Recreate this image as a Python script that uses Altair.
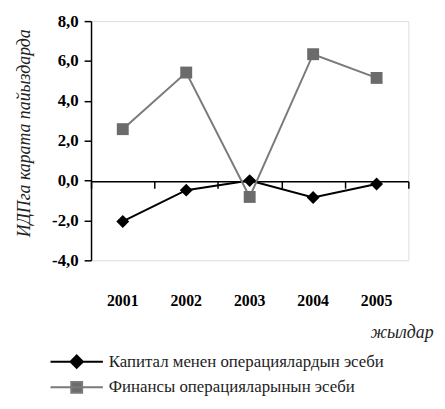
import altair as alt
import pandas as pd

years = ["2001", "2002", "2003", "2004", "2005"]
capital = [-2.05, -0.48, 0.0, -0.85, -0.17]
finance = [2.58, 5.42, -0.82, 6.34, 5.15]
series_names = ["Капитал менен операциялардын эсеби", "Финансы операцияларынын эсеби"]
y_ticks = [-4, -2, 0, 2, 4, 6, 8]

rows = []
for y, v in zip(years, capital):
    rows.append({"year": y, "series": series_names[0], "value": v})
for y, v in zip(years, finance):
    rows.append({"year": y, "series": series_names[1], "value": v})
df = pd.DataFrame(rows)

FONT = "Liberation Serif, Times New Roman, serif"
xscale = alt.Scale(type="band", paddingInner=0, paddingOuter=0, domain=years)
yscale = alt.Scale(domain=[-4, 8], nice=False, zero=False)

y_axis = alt.Axis(
    values=y_ticks, grid=False, title="ИДПга карата пайыздарда",
    labelExpr="replace(replace(format(datum.value, '.1f'), '.', ','), '\u2212', '-')",
    labelFont=FONT, labelFontSize=17, labelFontWeight="bold", labelColor="black",
    labelPadding=6, tickSize=7, tickColor="black", tickWidth=1.5,
    domainColor="black", domainWidth=1.5,
    titleFont=FONT, titleFontSize=18, titleFontStyle="italic", titleFontWeight="normal",
    titleColor="#222", titlePadding=18, titleY=113,
)
y_enc = alt.Y("value:Q", scale=yscale, axis=y_axis)

axis_labels = alt.Axis(
    orient="bottom", domain=False, ticks=False, tickSize=0, labelPadding=33, labelAngle=0,
    labelFont=FONT, labelFontSize=16, labelFontWeight="bold", labelColor="black",
    title="жылдар", titleFont=FONT, titleFontSize=18, titleFontStyle="italic",
    titleFontWeight="normal", titleColor="#222", titleAlign="right", titleBaseline="middle",
    titleX=346, titleY=73, titleAnchor="end",
)
axis_zero = alt.Axis(
    orient="bottom", offset=-80, labels=False, tickBand="extent", tickSize=7,
    tickColor="black", tickWidth=1.5, domainColor="black", domainWidth=1.5,
    title=None, grid=False,
)

x_a = alt.X("year:N", scale=xscale, bandPosition=0.5, axis=axis_labels)
x_b = alt.X("year:N", scale=xscale, bandPosition=0.5, axis=axis_zero)

base = alt.Chart(df)
line_cap = base.transform_filter(alt.datum.series == series_names[0]).mark_line(
    color="black", strokeWidth=2).encode(x=x_a, y=y_enc)
line_fin = base.transform_filter(alt.datum.series == series_names[1]).mark_line(
    color="#7a7a7a", strokeWidth=2).encode(x=x_a, y=y_enc)
pts_cap = base.transform_filter(alt.datum.series == series_names[0]).mark_point(
    shape="diamond", filled=True, color="black", size=170, opacity=1).encode(x=x_b, y=y_enc)
pts_fin = base.transform_filter(alt.datum.series == series_names[1]).mark_point(
    shape="square", filled=True, color="#6b6b6b", size=145, opacity=1).encode(x=x_b, y=y_enc)

shape_paths = [
    "M-5.3,0L5.3,0M0,-1.25L1.25,0L0,1.25L-1.25,0Z",
    "M-5.3,0L5.3,0M-1.1,-1.1L1.1,-1.1L1.1,1.1L-1.1,1.1Z",
]
legend = alt.Legend(
    orient="none", legendX=-23, legendY=336, direction="vertical", title=None,
    labelFont=FONT, labelFontSize=17, labelColor="#222", labelOffset=24, labelLimit=0,
    symbolSize=100, symbolStrokeWidth=2, symbolOpacity=1, rowPadding=6, padding=0,
)
legend_layer = base.transform_filter("false").mark_point(filled=True, opacity=1).encode(
    shape=alt.Shape("series:N", scale=alt.Scale(domain=series_names, range=shape_paths), legend=legend),
    fill=alt.Fill("series:N", scale=alt.Scale(domain=series_names, range=["black", "#6b6b6b"]), legend=legend),
    stroke=alt.Stroke("series:N", scale=alt.Scale(domain=series_names, range=["black", "#7a7a7a"]), legend=legend),
)

chart = alt.layer(
    alt.layer(line_cap, line_fin),
    alt.layer(pts_cap, pts_fin),
    legend_layer,
).resolve_axis(x="independent").properties(
    width=321, height=242,
    autosize=alt.AutoSizeParams(type="none"),
    padding={"left": 84, "top": 11, "right": 29, "bottom": 136},
).configure_view(stroke=None).configure(background="white")

chart.save("out.html", embed_options={"renderer": "svg", "actions": False})
